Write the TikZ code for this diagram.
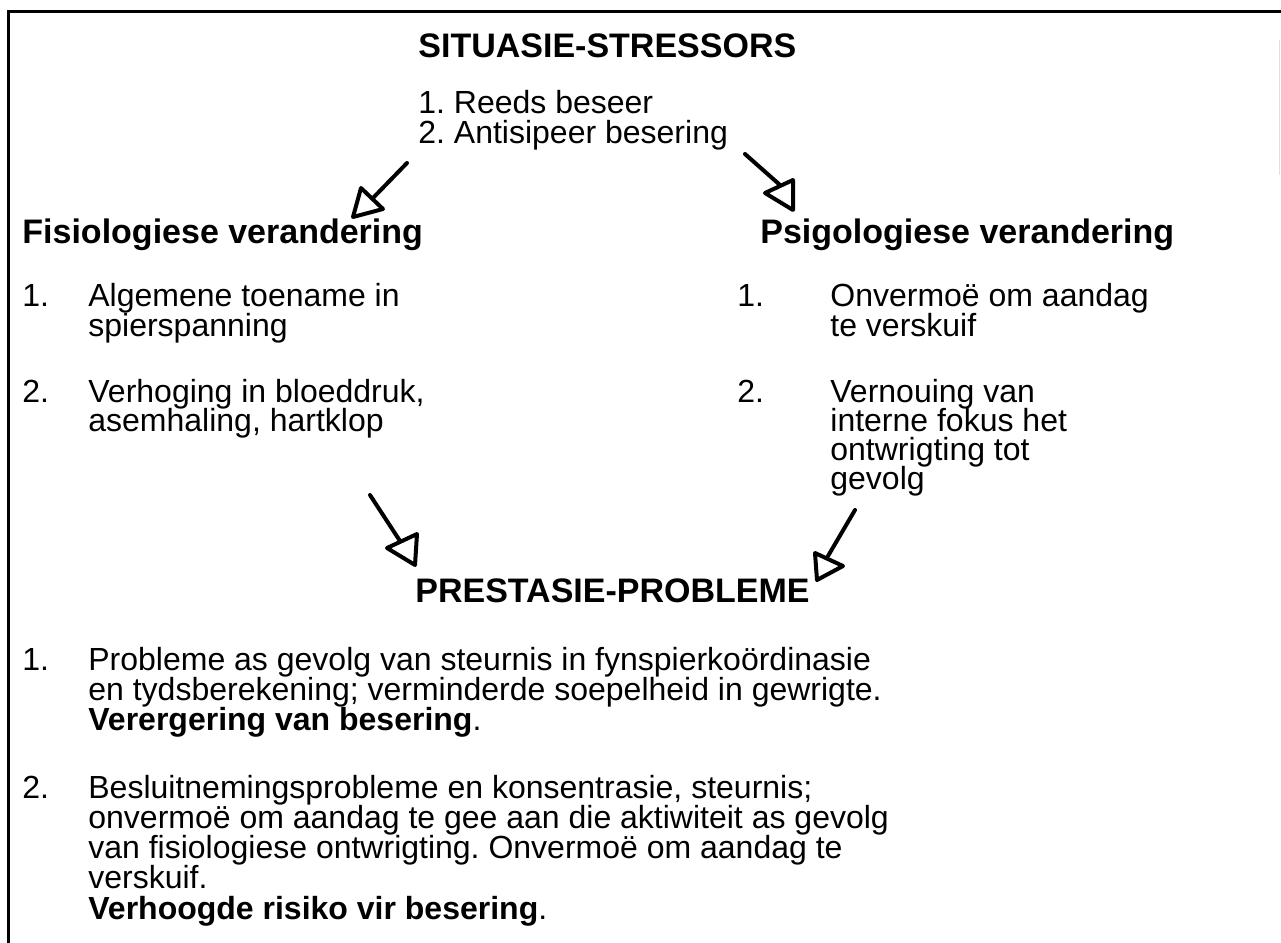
\documentclass[tikz,border=0pt]{standalone}
\usepackage{fontspec}
\setmainfont{Liberation Sans}
\frenchspacing
\begin{document}
\begin{tikzpicture}[x=0.5pt,y=-0.5pt,
  txt/.style={anchor=base west,inner sep=0pt,font=\fontsize{16}{15}\selectfont},
  hd/.style={anchor=base west,inner sep=0pt,font=\fontsize{17}{15}\selectfont\bfseries},
  stem/.style={line width=2pt,line cap=round},
  tri/.style={line width=2pt,line join=round,fill=white}]
\useasboundingbox (0,0) rectangle (1281,943);
\draw[line width=1.5pt] (8,943) -- (8,11) -- (1281,11);
\draw[line width=0.5pt,black!12] (1279.5,40) -- (1279.5,175);

% top
\node[hd] (title) at (418,57) {SITUASIE-STRESSORS};
\node[txt] (s1) at (418,113) {1. Reeds beseer};
\node[txt] (s2) at (418,143) {2. Antisipeer besering};

% headings
\node[hd] (fis) at (22,243) {Fisiologiese verandering};
\node[hd] (psi) at (760,243) {Psigologiese verandering};

% left column
\node[txt] (fn1) at (22,306) {1.};
\node[txt] (f1a) at (88,306) {Algemene toename in};
\node[txt] (f1b) at (88,336) {spierspanning};
\node[txt] (fn2) at (22,402) {2.};
\node[txt] (f2a) at (88,402) {Verhoging in bloeddruk,};
\node[txt] (f2b) at (88,431) {asemhaling, hartklop};

% right column
\node[txt] (pn1) at (737,306) {1.};
\node[txt] (p1a) at (830,306) {Onvermoë om aandag};
\node[txt] (p1b) at (830,336) {te verskuif};
\node[txt] (pn2) at (737,402) {2.};
\node[txt] (p2a) at (830,402) {Vernouing van};
\node[txt] (p2b) at (830,431) {interne fokus het};
\node[txt] (p2c) at (830,460) {ontwrigting tot};
\node[txt] (p2d) at (830,489) {gevolg};

% bottom heading
\node[hd] (pres) at (415,602) {PRESTASIE-PROBLEME};

% bottom list
\node[txt] (bn1) at (22,670) {1.};
\node[txt] (b1a) at (88,670) {Probleme as gevolg van steurnis in fynspierkoördinasie};
\node[txt] (b1b) at (88,700) {en tydsberekening; verminderde soepelheid in gewrigte.};
\node[txt] (b1c) at (88,730) {\textbf{Verergering van besering}.};
\node[txt] (bn2) at (22,798) {2.};
\node[txt] (b2a) at (88,798) {Besluitnemingsprobleme en konsentrasie, steurnis;};
\node[txt] (b2b) at (88,828) {onvermoë om aandag te gee aan die aktiwiteit as gevolg};
\node[txt] (b2c) at (88,858) {van fisiologiese ontwrigting. Onvermoë om aandag te};
\node[txt] (b2d) at (88,888) {verskuif.};
\node[txt] (b2e) at (88,919) {\textbf{Verhoogde risiko vir besering}.};

% arrows
\coordinate (a1s) at (407,163);
\coordinate (a1e) at (372,199);
\draw[stem] (a1s) -- (a1e);
\draw[tri] (353,217) -- (361,188) -- (383,209) -- cycle;

\coordinate (a2s) at (745,154);
\coordinate (a2e) at (780,185);
\draw[stem] (a2s) -- (a2e);
\draw[tri] (765,193) -- (793,180) -- (793,210) -- cycle;

\coordinate (a3s) at (370,495);
\coordinate (a3e) at (400,541);
\draw[stem] (a3s) -- (a3e);
\draw[tri] (387,548) -- (417,534) -- (415,565) -- cycle;

\coordinate (a4s) at (855,510);
\coordinate (a4e) at (828,556);
\draw[stem] (a4s) -- (a4e);
\draw[tri] (815,553) -- (843,566) -- (817,580) -- cycle;
\end{tikzpicture}
\end{document}
